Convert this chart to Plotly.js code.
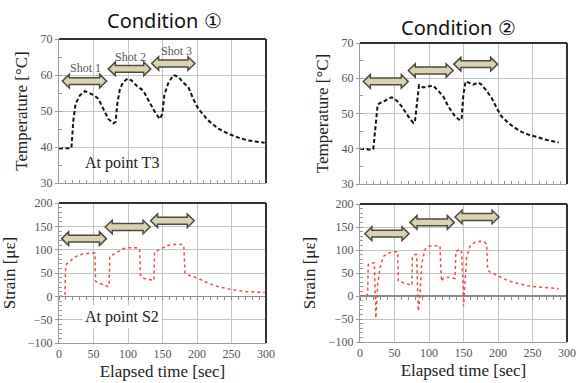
<!DOCTYPE html>
<html><head><meta charset="utf-8">
<script src="https://cdn.plot.ly/plotly-3.0.1.min.js"></script>
<style>html,body{margin:0;padding:0;background:#fff}#chart{width:583px;height:383px}</style>
</head><body><div id="chart"></div>
<script>
// ---- data ----
const timeT1 = [0,18,20.8,24,30.4,37.7,45,52,57,64,71.5,78.7,82,84.5,88.4,93,99.5,105,112.6,122,129.5,139,146,149.8,152.7,158,165.7,173,180,187.5,194.7,202,216,231,245,260,274,298];
const temp1  = [39.6,39.7,47.4,52,54.4,55.5,54.9,54.2,53.4,50.6,47.8,46.6,46.9,52,56.2,58,59,58.5,57,55.7,53,49.7,47.8,49.2,54.4,57.6,60,59.5,57.9,56.6,53.3,50.6,47.4,45.1,43.7,42.6,41.8,41.2];
const timeT2 = [0,9.7,17,19.3,22.7,25.6,29,33.8,41,45.9,53,60.4,70,77.3,79.7,82,85.5,91.8,99,106,113.5,120.8,128,137.7,145,147.3,149.8,153,159.4,164,171.5,176,183.6,190.8,198,205,215,224.6,234,244,256,268,277.8,288];
const temp2  = [40,39.8,39.7,40,46.9,52.5,53,53.3,54.2,54.6,53.7,52,49.2,47.3,47.8,52.5,58,57.4,57.7,57.9,56.4,54.8,52,49.2,48,48.7,55.3,59.1,58.6,58.2,58.8,58.2,56.4,54.4,51.6,49.2,47.3,45.9,44.8,44,43.4,42.6,42.2,41.8];
const timeS1 = [0,6,8.7,9.6,11,16,20.7,28,35,42,49.5,52,53,56.7,64,71,72.6,73.6,78,85.6,93,100,112,116.8,118,121.6,129,136,137.5,138.5,143,150.5,157.7,165,172,179,180.8,182.7,186.5,201,215,230,245,260,274,298];
const strain1 = [-1,2,4,64,70,75,82,88,91,92,93,93,32,29,25,21,23,86,89,96,102,104,104,102,46,39,37,34,34,96,98,104,109,111,111,111,109,50,46,39,29,21,16,12,10,8];
const timeS2 = [0,9.7,11,12,16,19.3,20.8,23,24,25.6,29,33.8,41,48,54.6,55.6,60.4,67.6,75,76,79.7,82,83,84.5,87,89.4,94,99,108.7,116,117.4,118.4,120.8,128,137.7,139,144.9,147,148.8,150,152,154.6,159.4,166.7,174,181,183.6,185,188.4,200.5,215,229.5,244,263,288];
const strain2 = [0,1,3,68,72,73,72,-48,-26,25,61,86,93,96,96,32,30,27,23,83,90,90,25,-33,3,68,101,108,109,109,46,32,39,41,38,97,101,100,46,-22,25,83,108,117,119,117,112,57,52,43,33,27,22,19,16];
// shot arrows: [start, end, level]
const shotsT1 = [[4.8,69,58.3],[71.5,133,61.7],[134.3,197,63.2]];
const shotsT2 = [[4.8,70,59.1],[70,135,62.2],[136,199.5,64]];
const shotsS1 = [[3.8,68.8,123.6],[67,132,148.6],[132.7,196,162]];
const shotsS2 = [[7,71,135.5],[72.5,136.7,160],[137.7,201.5,171.7]];
const shotLabels = ['Shot 1','Shot 2','Shot 3'];
const shotLabelPos = [[39,62.0],[104,65.0],[169.6,66.6]];
const titles = ['Condition \u2460','Condition \u2461'];

// ---- layout geometry ----
const W = 583, H = 383;
const dom = {
  x1:[59/W,266/W], x2:[360/W,567/W],
  y1:[1-183/H,1-39/H], y2:[1-184/H,1-43/H],
  y3:[1-343/H,1-203/H], y4:[1-342/H,1-204/H]
};
const tempRange=[30,70], strainRange=[-100,200], tRange=[0,300];
const serif = 'Liberation Serif, serif';
const tickFont = {family:serif, size:12, color:'#555'};
const titleFont = {family:serif, size:17, color:'#222'};

function xax(d, anchor){
  return {domain:d, anchor:anchor, range:tRange, dtick:50, showgrid:true, gridcolor:'#c4c4c4', gridwidth:1,
    showline:true, linecolor:'#999', linewidth:1, ticks:'', zeroline:false, tickfont:tickFont,
    minor:{dtick:10, ticks:'inside', ticklen:3, tickcolor:'#999', showgrid:false}};
}
function yax(d, anchor, range, dtick, mdt, title){
  return {domain:d, anchor:anchor, range:range, dtick:dtick, showgrid:true, gridcolor:'#c4c4c4', gridwidth:1,
    showline:true, linecolor:'#999', linewidth:1, ticks:'outside', ticklen:3, tickcolor:'#999', zeroline:false,
    tickfont:tickFont, title:{text:title, font:titleFont, standoff:8},
    minor:{dtick:mdt, ticks:'inside', ticklen:3, tickcolor:'#999', showgrid:false}};
}

const layout = {
  width:W, height:H, margin:{l:0,r:0,t:0,b:0}, showlegend:false,
  paper_bgcolor:'#fff', plot_bgcolor:'#fff',
  xaxis: Object.assign(xax(dom.x1,'y'), {showticklabels:false}),
  yaxis: yax(dom.y1,'x',tempRange,10,5,'Temperature [\u00b0C]'),
  xaxis2: Object.assign(xax(dom.x2,'y2'), {showticklabels:false}),
  yaxis2: yax(dom.y2,'x2',tempRange,10,5,'Temperature [\u00b0C]'),
  xaxis3: Object.assign(xax(dom.x1,'y3'), {title:{text:'Elapsed time [sec]', font:titleFont, standoff:4}, minor:{showgrid:false}}),
  yaxis3: Object.assign(yax(dom.y3,'x3',strainRange,50,10,'Strain [\u03bc\u03b5]'), {zeroline:true, zerolinecolor:'#8a8a8a', zerolinewidth:1.5}),
  xaxis4: Object.assign(xax(dom.x2,'y4'), {title:{text:'Elapsed time [sec]', font:titleFont, standoff:4}, minor:{showgrid:false}}),
  yaxis4: Object.assign(yax(dom.y4,'x4',strainRange,50,10,'Strain [\u03bc\u03b5]'), {zeroline:true, zerolinecolor:'#8a8a8a', zerolinewidth:1.5}),
  // tick axes along the zero strain line
  xaxis5: {overlaying:'x3', anchor:'free', position: dom.y3[0]+(0-strainRange[0])/(strainRange[1]-strainRange[0])*(dom.y3[1]-dom.y3[0]),
    range:tRange, dtick:10, showticklabels:false, ticks:'outside', ticklen:3, tickcolor:'#888', showgrid:false, showline:false, zeroline:false},
  xaxis6: {overlaying:'x4', anchor:'free', position: dom.y4[0]+(0-strainRange[0])/(strainRange[1]-strainRange[0])*(dom.y4[1]-dom.y4[0]),
    range:tRange, dtick:10, showticklabels:false, ticks:'outside', ticklen:3, tickcolor:'#888', showgrid:false, showline:false, zeroline:false},
  shapes: [], annotations: []
};

// dark top/right frame
['', '2', '3', '4'].forEach(s=>{
  const xr = 'x'+s+' domain', yr = 'y'+s+' domain';
  layout.shapes.push({type:'line', xref:xr, yref:yr, x0:0, x1:1, y0:1, y1:1, line:{color:'#333', width:2}});
  layout.shapes.push({type:'line', xref:xr, yref:yr, x0:1, x1:1, y0:0, y1:1, line:{color:'#333', width:2}});
});

// block double-arrows
function addArrows(shots, xs, ys, xd, yd, yr){
  const xpp = (tRange[1]-tRange[0])/((xd[1]-xd[0])*W);
  const ypp = (yr[1]-yr[0])/((yd[1]-yd[0])*H);
  const hl = 7*xpp, bh = 3.4*ypp, hh = 6.8*ypp;
  shots.forEach(([a,b,c])=>{
    const p = [[a,c],[a+hl,c+hh],[a+hl,c+bh],[b-hl,c+bh],[b-hl,c+hh],[b,c],[b-hl,c-hh],[b-hl,c-bh],[a+hl,c-bh],[a+hl,c-hh]];
    const path = 'M'+p.map(q=>q[0].toFixed(3)+','+q[1].toFixed(3)).join('L')+'Z';
    layout.shapes.push({type:'path', xref:xs, yref:ys, path:path, fillcolor:'#d9d3b4', line:{color:'#4d4b40', width:1.5}});
  });
}
addArrows(shotsT1,'x','y',dom.x1,dom.y1,tempRange);
addArrows(shotsT2,'x2','y2',dom.x2,dom.y2,tempRange);
addArrows(shotsS1,'x3','y3',dom.x1,dom.y3,strainRange);
addArrows(shotsS2,'x4','y4',dom.x2,dom.y4,strainRange);

shotLabels.forEach((t,i)=>{
  layout.annotations.push({xref:'x', yref:'y', x:shotLabelPos[i][0], y:shotLabelPos[i][1], text:t, showarrow:false,
    font:{family:serif, size:12, color:'#555'}});
});
layout.annotations.push({xref:'x', yref:'y', x:91, y:35.6, text:'At point T3', showarrow:false, font:{family:serif, size:16, color:'#222'}});
layout.annotations.push({xref:'x3', yref:'y3', x:91, y:-43.6, text:'At point S2', showarrow:false, bgcolor:'#fff', borderpad:2,
  font:{family:serif, size:16, color:'#222'}});
layout.annotations.push({xref:'paper', yref:'paper', x:164/W, y:1-20/H, text:titles[0], showarrow:false, xanchor:'center', yanchor:'middle',
  font:{family:'Noto Sans, sans-serif', size:20, color:'#111'}});
layout.annotations.push({xref:'paper', yref:'paper', x:458/W, y:1-27/H, text:titles[1], showarrow:false, xanchor:'center', yanchor:'middle',
  font:{family:'Noto Sans, sans-serif', size:20, color:'#111'}});

const tempLine = {color:'#111', width:2, dash:'4px,2.5px'};
const strainLine = {color:'#f04a4a', width:1.5, dash:'dot'};
const data = [
  {x:timeT1, y:temp1, xaxis:'x', yaxis:'y', mode:'lines', line:tempLine, hoverinfo:'skip'},
  {x:timeT2, y:temp2, xaxis:'x2', yaxis:'y2', mode:'lines', line:tempLine, hoverinfo:'skip'},
  {x:timeS1, y:strain1, xaxis:'x3', yaxis:'y3', mode:'lines', line:strainLine, hoverinfo:'skip'},
  {x:timeS2, y:strain2, xaxis:'x4', yaxis:'y4', mode:'lines', line:strainLine, hoverinfo:'skip'},
  {x:[0], y:[0], xaxis:'x5', yaxis:'y3', mode:'markers', marker:{opacity:0}, hoverinfo:'skip'},
  {x:[0], y:[0], xaxis:'x6', yaxis:'y4', mode:'markers', marker:{opacity:0}, hoverinfo:'skip'}
];
Plotly.newPlot('chart', data, layout, {staticPlot:true, displayModeBar:false});
</script></body></html>
